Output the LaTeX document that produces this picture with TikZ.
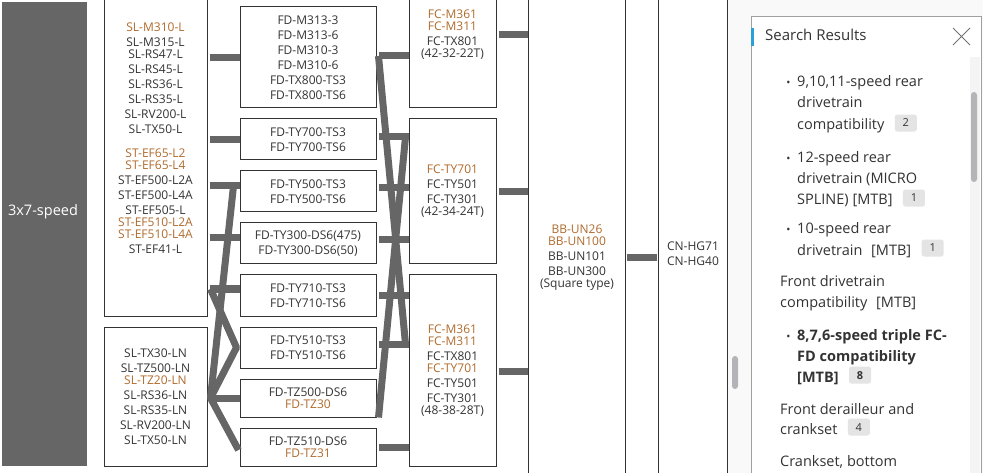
\documentclass[tikz,border=0pt]{standalone}
\usepackage{fontspec}
\setmainfont{Open Sans}
\usetikzlibrary{positioning,calc}
\definecolor{orng}{HTML}{B06A2C}
\definecolor{ink}{HTML}{333333}
\definecolor{barg}{HTML}{666666}
\definecolor{badgeg}{HTML}{E4E4E4}
\definecolor{accent}{HTML}{2A9FD8}
\definecolor{panelbg}{HTML}{F9F9F9}
\definecolor{panelline}{HTML}{A0A0A0}
\definecolor{trackbg}{HTML}{F4F4F4}
\definecolor{thumbg}{HTML}{B4B4B8}
\newcommand{\og}[1]{\textcolor{orng}{#1}}

\tikzset{
  part/.style={draw=ink, line width=1pt, text=ink, align=center, inner sep=0pt,
    font=\fontsize{12}{15}\selectfont},
  column/.style={text=ink, align=center, inner sep=0pt, minimum height=560pt,
    font=\fontsize{12}{15}\selectfont},
  bar/.style={draw=barg, line width=7pt, line join=bevel},
  rule/.style={draw=ink, line width=1pt},
  entry/.style={anchor=base west, inner sep=0pt, text=ink,
    font=\fontsize{14.5}{20}\selectfont},
  badge/.style={fill=badgeg, rounded corners=2.5pt, minimum width=22pt,
    minimum height=17pt, inner sep=0pt, text=ink,
    font=\fontsize{11}{12}\selectfont}
}

\begin{document}
\begin{tikzpicture}[x=1pt, y=-1pt]
  \useasboundingbox (0,0) rectangle (983,473);

  % speed label
  \fill[barg] (2,2) rectangle (87,466);
  \node[text=white, font=\fontsize{14.5}{17}\selectfont] (speed) at (43,212) {3x7-speed};

  % shifters
  \node[part, minimum width=103pt, minimum height=356pt] (sl) at (155.5,138)
    {\og{SL-M310-L}\\ SL-M315-L\\[-3pt] SL-RS47-L\\ SL-RS45-L\\ SL-RS36-L\\ SL-RS35-L\\
     SL-RV200-L\\ SL-TX50-L\\[9pt] \og{ST-EF65-L2}\\[-3pt] \og{ST-EF65-L4}\\ ST-EF500-L2A\\
     ST-EF500-L4A\\ ST-EF505-L\\[-3pt] \og{ST-EF510-L2A}\\[-3pt] \og{ST-EF510-L4A}\\ ST-EF41-L};
  \node[part, minimum width=103pt, minimum height=139pt] (sln) at (155.5,396.5)
    {SL-TX30-LN\\ SL-TZ500-LN\\[-3pt] \og{SL-TZ20-LN}\\ SL-RS36-LN\\ SL-RS35-LN\\
     SL-RV200-LN\\ SL-TX50-LN};

  % front derailleurs
  \node[part, minimum width=136pt, minimum height=101pt] (fd1) at (308,57.5)
    {FD-M313-3\\ FD-M313-6\\ FD-M310-3\\ FD-M310-6\\ FD-TX800-TS3\\ FD-TX800-TS6};
  \node[part, minimum width=136pt, minimum height=41pt] (fd2) at (308,139.5)
    {FD-TY700-TS3\\ FD-TY700-TS6};
  \node[part, minimum width=136pt, minimum height=41pt] (fd3) at (308,191.5)
    {FD-TY500-TS3\\ FD-TY500-TS6};
  \node[part, minimum width=136pt, minimum height=41pt] (fd4) at (308,243.5)
    {FD-TY300-DS6(475)\\ FD-TY300-DS6(50)};
  \node[part, minimum width=136pt, minimum height=41pt] (fd5) at (308,295.5)
    {FD-TY710-TS3\\ FD-TY710-TS6};
  \node[part, minimum width=136pt, minimum height=41pt] (fd6) at (308,347.5)
    {FD-TY510-TS3\\ FD-TY510-TS6};
  \node[part, minimum width=136pt, minimum height=38pt] (fd7) at (308,398)
    {FD-TZ500-DS6\\[-3pt] \og{FD-TZ30}};
  \node[part, minimum width=136pt, minimum height=38pt] (fd8) at (308,447)
    {FD-TZ510-DS6\\[-3pt] \og{FD-TZ31}};

  % cranksets
  \node[part, minimum width=87pt, minimum height=146pt] (fc1) at (452.5,35)
    {\og{FC-M361}\\[-3pt] \og{FC-M311}\\ FC-TX801\\[-3pt] (42-32-22T)};
  \node[part, minimum width=87pt, minimum height=145pt] (fc2) at (452.5,191.5)
    {\og{FC-TY701}\\ FC-TY501\\ FC-TY301\\[-3pt] (42-34-24T)};
  \node[part, minimum width=87pt, minimum height=191pt] (fc3) at (452.5,370.5)
    {\og{FC-M361}\\[-3pt] \og{FC-M311}\\ FC-TX801\\[-3pt] \og{FC-TY701}\\ FC-TY501\\
     FC-TY301\\[-3pt] (48-38-28T)};

  % bottom bracket and chain
  \node[column, minimum width=96pt] (bb) at (577,258)
    {\og{BB-UN26}\\[-3pt] \og{BB-UN100}\\ BB-UN101\\ BB-UN300\\[-3pt] (Square type)};
  \node[column, minimum width=68pt] (cn) at (693,253.5) {CN-HG71\\ CN-HG40};

  % side panel background
  \fill[panelbg] (727,-5) rectangle (990,480);
  \fill[thumbg, rounded corners=3pt] (732,356) rectangle (738,389);

  \draw[rule] (bb.north west) -- (bb.south west) (bb.north east) -- (bb.south east);
  \draw[rule] (cn.north west) -- (cn.south west) (cn.north east) -- (cn.south east);

  % shifters to derailleurs
  \foreach \a/\y in {fd1/58, fd2/140, fd3/186, fd4/238, fd5/289}
    \draw[bar] ($(sl.east |- 0,\y)+(2,0)$) -- (\a.west |- 0,\y);
  \draw[bar] ($(sln.east |- fd7)+(2,0)$) -- (fd7.west);
  \draw[bar] ($(fd3.west |- 0,186)+(-6,0)$) -- ($(sln.east |- fd7)+(3,0)$);
  \draw[bar] ($(sl.east |- 0,289)+(3,0)$) -- ($(fd6.west)+(-3,0)$)
    -- ($(sln.east |- fd7)+(3,0)$) -- ($(fd8.west)+(-1,3)$);

  % derailleurs to cranksets
  \foreach \a/\b/\y in {fd1/fc1/56, fd2/fc2/137, fd3/fc2/188, fd4/fc2/240,
                        fd5/fc3/295, fd6/fc3/344, fd8/fc3/447}
    \draw[bar] ($(\a.east |- 0,\y)+(2,0)$) -- (\b.west |- 0,\y);
  \draw[bar] ($(fd1.east |- 0,56)+(2,0)$) -- ($(fc3.west |- 0,344)+(-3,0)$);
  \draw[bar] ($(fc2.west |- 0,137)+(-3,0)$) -- ($(fd7.south east)+(2,0)$);

  % cranksets to bottom bracket, then chain
  \foreach \a/\y in {fc1/35, fc2/192, fc3/371}
    \draw[bar] ($(\a.east |- 0,\y)+(2,0)$) -- ($(bb.west |- 0,\y)+(-1,0)$);
  \draw[bar] ($(bb.east)+(2,0)$) -- ($(cn.west |- bb)+(-2,0)$);

  % search results panel
  \draw[panelline, line width=0.8pt, fill=white] (751,16) rectangle (981,490);
  \fill[accent] (751,28) rectangle (754,46);
  \node[entry, font=\fontsize{15}{18}\selectfont] (title) at (765,41) {Search Results};
  \draw[black!55, line width=0.8pt] (953,28) -- (970,45) (953,45) -- (970,28);
  \fill[trackbg] (970,57) rectangle (980.4,490);
  \fill[thumbg, rounded corners=3pt] (971,92) rectangle (977,182);

  \foreach \y in {87, 163, 234, 340}
    \node[entry, anchor=base, font=\fontsize{11}{12}\selectfont] at (788.5,\y) {•};
  \node[entry] (r1) at (797,87) {9,10,11-speed rear};
  \node[entry] (r2) at (797,108) {drivetrain};
  \node[entry] (r3) at (797,130) {compatibility};
  \node[badge, right=10pt of r3.base east, anchor=base west, yshift=3pt] (n3) {2};
  \node[entry] (r4) at (797,163) {12-speed rear};
  \node[entry] (r5) at (797,184) {drivetrain (MICRO};
  \node[entry] (r6) at (797,205) {SPLINE) [MTB]};
  \node[badge, right=10pt of r6.base east, anchor=base west, yshift=3pt] (n6) {1};
  \node[entry] (r7) at (797,234) {10-speed rear};
  \node[entry] (r8) at (797,255) {drivetrain\hspace{5pt} [MTB]};
  \node[badge, right=10pt of r8.base east, anchor=base west, yshift=3pt] (n8) {1};
  \node[entry] (r9) at (780,287) {Front drivetrain};
  \node[entry] (r10) at (780,308) {compatibility\hspace{5pt} [MTB]};
  \node[entry, font=\fontsize{14.5}{20}\selectfont\bfseries] (r11) at (797,340) {8,7,6-speed triple FC-};
  \node[entry, font=\fontsize{14.5}{20}\selectfont\bfseries] (r12) at (797,361) {FD compatibility};
  \node[entry, font=\fontsize{14.5}{20}\selectfont\bfseries] (r13) at (797,382) {[MTB]};
  \node[badge, right=10pt of r13.base east, anchor=base west, yshift=3pt,
    font=\fontsize{11}{12}\selectfont\bfseries] (n13) {8};
  \node[entry] (r14) at (780,414) {Front derailleur and};
  \node[entry] (r15) at (780,434) {crankset};
  \node[badge, right=10pt of r15.base east, anchor=base west, yshift=3pt] (n15) {4};
  \node[entry] (r16) at (780,466) {Crankset, bottom};
\end{tikzpicture}
\end{document}
